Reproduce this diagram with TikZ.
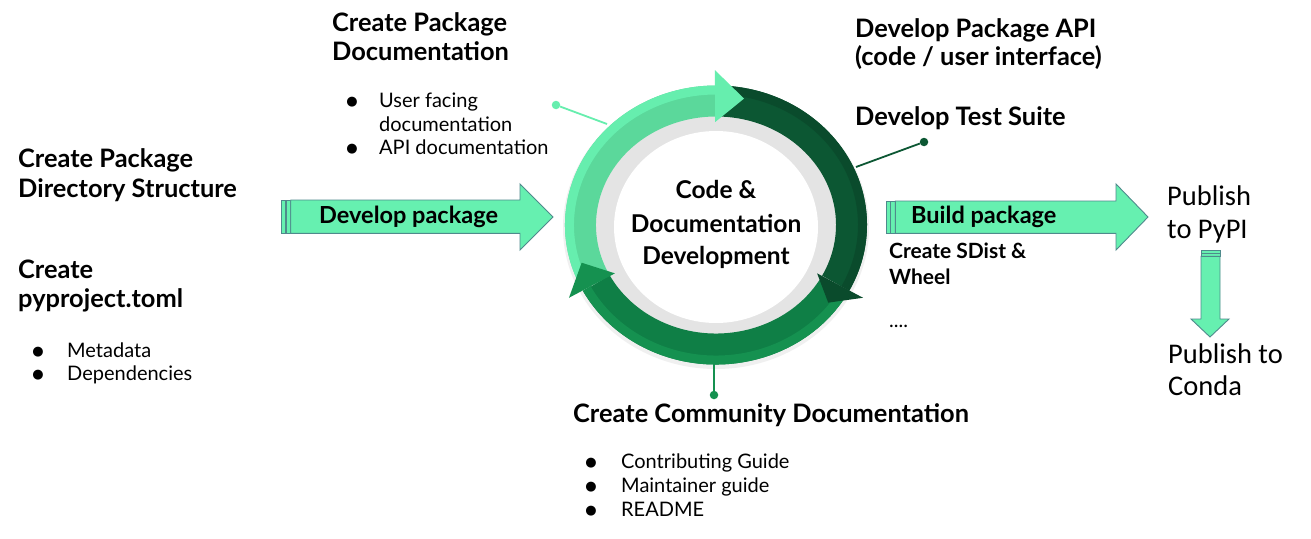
\documentclass[tikz,border=0pt]{standalone}
\usepackage{fontspec}
\setmainfont{Lato}
\newfontfamily\pubfont{Carlito}
\newfontfamily\symfont{DejaVu Sans}
\definecolor{mint}{HTML}{66F0B0}
\definecolor{arrowedge}{HTML}{4F8A8C}
\definecolor{lgA}{HTML}{5BD89B}
\definecolor{lgB}{HTML}{66EEAE}
\definecolor{dgA}{HTML}{0C5733}
\definecolor{dgB}{HTML}{0A4B2C}
\definecolor{mgA}{HTML}{0F7F46}
\definecolor{mgB}{HTML}{159150}
\definecolor{ringgray}{HTML}{E4E4E4}
\newcommand\hdfont{\fontsize{25.4}{29}\selectfont\bfseries}
\newcommand\ctfont{\fontsize{24.5}{29}\selectfont\bfseries}
\newcommand\arfont{\fontsize{23.5}{28}\selectfont\bfseries}
\newcommand\smhdfont{\fontsize{21}{25}\selectfont\bfseries}
\newcommand\bdfont{\fontsize{20}{24}\selectfont}
\newcommand\pbfont{\pubfont\fontsize{28.5}{34}\selectfont}
\newcommand\blt{{\symfont\fontsize{13}{13}\selectfont ●}}
\newcommand\ringseg[4]{%
  \draw[#1, line width=31pt] ({135.5*cos(#3)},{124*sin(#3)}) arc[start angle=#3, end angle=#4, x radius=135.5pt, y radius=124pt];
  \draw[#2, line width=9pt] ({146.5*cos(#3)},{135*sin(#3)}) arc[start angle=#3, end angle=#4, x radius=146.5pt, y radius=135pt];}
\newcommand\ringhead[3]{%
  \fill[#1] ({166.5*cos(#2)},{155*sin(#2)}) -- ({114.5*cos(#2)},{103*sin(#2)}) -- ({140.5*cos(#3)},{129*sin(#3)}) -- cycle;}
\begin{document}
\begin{tikzpicture}[x=1pt,y=1pt,
  hd/.style={inner sep=0pt, anchor=base west, font=\hdfont},
  ar/.style={inner sep=0pt, anchor=base west, font=\arfont},
  smhd/.style={inner sep=0pt, anchor=base west, font=\smhdfont},
  bd/.style={inner sep=0pt, anchor=base west, font=\bdfont},
  bl/.style={inner sep=0pt, anchor=base},
  ctr/.style={inner sep=0pt, anchor=base, font=\ctfont},
  pb/.style={inner sep=0pt, anchor=base west, font=\pbfont},
  blockarrow/.style={fill=mint, draw=arrowedge, line width=0.9pt, line join=miter},
  dot/.style={circle, inner sep=0pt, minimum size=8.5pt}]
\fill[white] (0,0) rectangle (1311,-538);
\useasboundingbox (0,0) rectangle (1311,-538);

% ---------- cycle ring ----------
\begin{scope}[shift={(716,-225)}]
  \fill[black!6] (0,-2.5) ellipse[x radius=153pt, y radius=141.5pt];
  \fill[ringgray] (0,0) ellipse[x radius=121pt, y radius=110pt];
  \fill[white] (0,-2) ellipse[x radius=102pt, y radius=96pt];
  \ringseg{lgA}{lgB}{206}{90.4}
  \ringseg{dgA}{dgB}{89}{-28}
  \ringseg{mgA}{mgB}{-29}{-152}
  \ringhead{lgB}{90.4}{78.5}
  \ringhead{dgB}{-28}{-37}
  \ringhead{mgB}{-152}{-163}
\end{scope}
\node[ctr] (c1) at (716,-198) {Code \&};
\node[ctr] (c2) at (716,-232) {Documentation};
\node[ctr] (c3) at (716,-264) {Development};

% ---------- connectors ----------
\coordinate (ringPD) at (607,-124);
\node[dot, fill=lgB] (dotPD) at (556,-105) {};
\draw[lgB, line width=1.8pt] (dotPD) -- (ringPD);
\coordinate (ringAPI) at (856,-167);
\node[dot, fill=dgA] (dotAPI) at (924,-142) {};
\draw[dgA, line width=1.8pt] (dotAPI) -- (ringAPI);
\coordinate (ringCD) at (714,-362);
\node[dot, fill=mgB] (dotCD) at (714,-395) {};
\draw[mgB, line width=1.8pt] (ringCD) -- (dotCD);

% ---------- block arrows ----------
\draw[blockarrow] (281.7,-200) rectangle (285.9,-233.3);
\draw[blockarrow] (286.2,-200) rectangle (290.5,-233.3);
\draw[blockarrow] (290.7,-200) -- (520,-200) -- (520,-184) -- (553,-217) -- (520,-250) -- (520,-233.3) -- (290.7,-233.3) -- cycle;
\node[ar] (devpkg) at (319,-223) {Develop package};

\draw[blockarrow] (886,-201) rectangle (890.3,-233.3);
\draw[blockarrow] (890.6,-201) rectangle (895,-233.3);
\draw[blockarrow] (895.3,-201) -- (1116,-201) -- (1116,-184) -- (1148,-217) -- (1116,-250) -- (1116,-233.3) -- (895.3,-233.3) -- cycle;
\node[ar] (buildpkg) at (911,-223) {Build package};

\draw[blockarrow] (1201,-250) rectangle (1220,-253);
\draw[blockarrow] (1201,-253.3) rectangle (1220,-256);
\draw[blockarrow] (1201,-256.3) -- (1201,-319) -- (1191,-319) -- (1210,-337) -- (1229,-319) -- (1220,-319) -- (1220,-256.3) -- cycle;

% ---------- left texts ----------
\node[hd] (dirA) at (18,-167) {Create Package};
\node[hd] (dirB) at (18,-197) {Directory Structure};
\node[hd] (ppA) at (18,-278) {Create};
\node[hd] (ppB) at (18,-307) {pyproject.toml};
\node[bl] (b1) at (38,-355.5) {\blt};
\node[bd] (meta) at (67,-357) {Metadata};
\node[bl] (b2) at (38,-378.5) {\blt};
\node[bd] (deps) at (67,-380) {Dependencies};

% ---------- package documentation ----------
\node[hd] (pdA) at (332,-31) {Create Package};
\node[hd] (pdB) at (332,-60) {Documentation};
\node[bl] (b3) at (352,-105.5) {\blt};
\node[bd] (ufA) at (379,-107) {User facing};
\node[bd] (ufB) at (379,-131) {documentation};
\node[bl] (b4) at (352,-152.5) {\blt};
\node[bd] (apid) at (379,-154) {API documentation};

% ---------- API / tests ----------
\node[hd] (apiA) at (855,-37) {Develop Package API};
\node[hd] (apiB) at (855,-65) {(code / user interface)};
\node[hd] (tests) at (855,-125) {Develop Test Suite};

% ---------- build ----------
\node[smhd] (sdA) at (889,-258) {Create SDist \&};
\node[smhd] (sdB) at (889,-284) {Wheel};
\node[bd] (more) at (889,-327) {....};

% ---------- publish ----------
\node[pb] (pypiA) at (1167,-205) {Publish};
\node[pb] (pypiB) at (1167,-238) {to PyPI};
\node[pb] (condaA) at (1168,-363) {Publish to};
\node[pb] (condaB) at (1168,-395) {Conda};

% ---------- community documentation ----------
\node[hd] (cdT) at (573,-422) {Create Community Documentation};
\node[bl] (b5) at (591,-466.5) {\blt};
\node[bd] (contrib) at (621,-468) {Contributing Guide};
\node[bl] (b6) at (591,-490.5) {\blt};
\node[bd] (maint) at (621,-492) {Maintainer guide};
\node[bl] (b7) at (591,-514.5) {\blt};
\node[bd] (readme) at (621,-516) {README};
\end{tikzpicture}
\end{document}
